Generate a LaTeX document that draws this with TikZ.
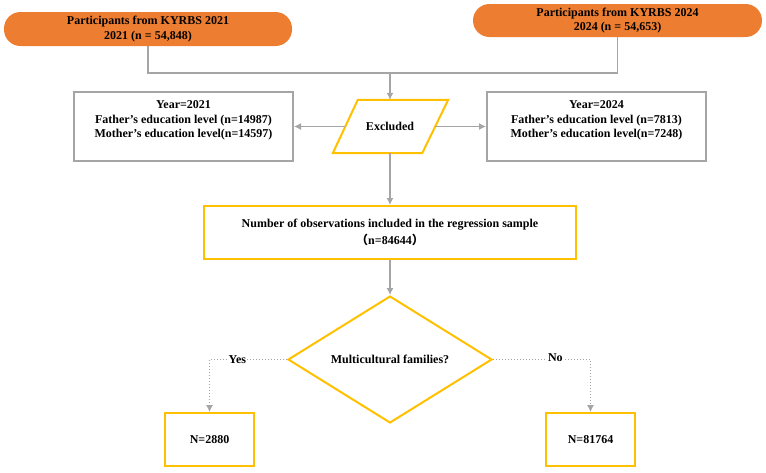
\documentclass[tikz,border=0pt]{standalone}
\usepackage{fontspec}
\setmainfont{Liberation Serif}
\newfontfamily\cjk{Noto Sans CJK SC}
\usetikzlibrary{arrows.meta,shapes.geometric,calc}

\definecolor{kyorange}{HTML}{ED7D31}
\definecolor{kyyellow}{HTML}{FFC000}
\definecolor{kygray}{HTML}{A5A5A5}

\tikzset{
  pill/.style={fill=kyorange, rounded corners=16.5pt, minimum height=34pt, align=center, inner sep=0pt},
  graybox/.style={draw=kygray, line width=2pt, align=center, inner sep=0pt},
  yelbox/.style={draw=kyyellow, line width=2pt, align=center, inner sep=0pt},
  link/.style={draw=kygray, line width=1.2pt},
  arr/.style={link, -{Latex[length=7pt,width=7pt]}},
  dotarr/.style={draw=kygray, line width=1pt, dotted, -{Latex[length=7pt,width=7pt]}},
}

\begin{document}
\begin{tikzpicture}[x=1pt, y=-1pt, font=\fontsize{12}{14.5}\selectfont\bfseries]
\useasboundingbox (0,0) rectangle (766,472);
% top
\node[pill, minimum width=288pt] (pL) at (148,29) {Participants from KYRBS 2021\\2021 (n = 54,848)};
\node[pill, minimum width=289pt, minimum height=33pt] (pR) at (617.5,20.5) {Participants from KYRBS 2024\\2024 (n = 54,653)};
\coordinate (join) at (390,73);
\draw[link] (pL.south) |- (join);
\draw[link] (pR.south) |- (join);
% excluded
\node[inner sep=0pt, minimum width=90pt, minimum height=53pt] (excl) at (390,126.5) {Excluded};
\draw[draw=kyyellow, line width=2pt] ($(excl.north west)+(13,0)$) -- ($(excl.north east)+(13,0)$)
  -- ($(excl.south east)+(-13,0)$) -- ($(excl.south west)+(-12,0)$) -- cycle;
\node[graybox, minimum width=219pt, minimum height=69pt] (yr1) at (183.5,126.5) {Year=2021\\Father’s education level (n=14987)\\Mother’s education level(n=14597)\\ \mbox{}};
\node[graybox, minimum width=219pt, minimum height=69pt] (yr2) at (596.5,126.5) {Year=2024\\Father’s education level (n=7813)\\Mother’s education level(n=7248)\\ \mbox{}};
\draw[arr] (join) -- (excl);
\draw[arr] (excl) -- (yr1);
\draw[arr] (excl) -- (yr2);
% sample
\node[yelbox, minimum width=372pt, minimum height=53pt] (reg) at (390,232.5) {Number of observations included in the regression sample\\[3pt]{\cjk （}n=84644{\cjk ）}};
\draw[arr] (excl) -- (reg);
\node[diamond, yelbox, minimum width=204pt, minimum height=93pt] (multi) at (390,359.5) {Multicultural families?};
\draw[arr] (reg) -- (multi);
% split
\node[yelbox, minimum width=89pt, minimum height=53pt] (nYes) at (209.5,439.5) {N=2880};
\node[yelbox, minimum width=89pt, minimum height=53pt] (nNo) at (590.5,439.5) {N=81764};
\draw[dotarr] (multi.west) -| node[pos=0.32, fill=white, inner sep=1pt] (yes) {Yes} (nYes.north);
\draw[dotarr] (multi.east) -| node[pos=0.32, fill=white, inner sep=1pt, yshift=2pt] (no) {No} (nNo.north);
\end{tikzpicture}
\end{document}
